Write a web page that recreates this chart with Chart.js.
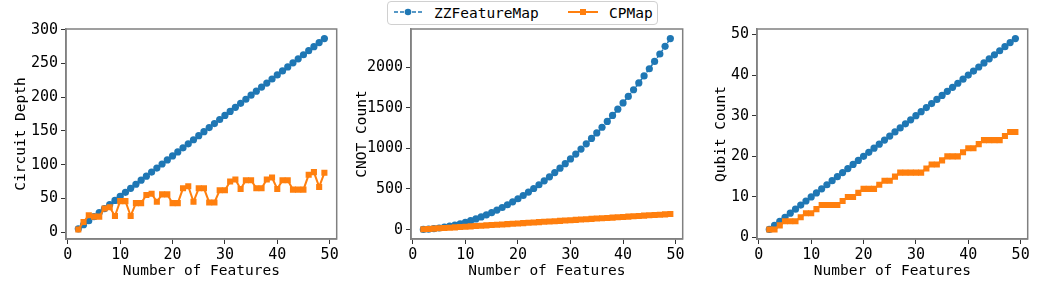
<!DOCTYPE html>
<html>
<head>
<meta charset="utf-8">
<script src="https://cdn.jsdelivr.net/npm/chart.js@4.4.1/dist/chart.umd.min.js"></script>
<style>
  body { margin: 0; background: #fff; width: 1046px; height: 291px; position: relative; overflow: hidden; }
  .panel { position: absolute; top: 0; height: 291px; }
  #legend {
    position: absolute; left: 387px; top: 1px; width: 269px; height: 22px;
    border: 1px solid #d0d0d0; border-radius: 4px; background: #fff;
    font-family: "DejaVu Sans Mono", monospace; font-size: 14.5px; color: #000;
  }
  #legend svg { position: absolute; top: 0; left: 0; }
  #legend span { position: absolute; top: 2px; line-height: 18px; }
</style>
</head>
<body>
<div class="panel" style="left:0px;width:341px"><canvas id="depth"></canvas></div>
<div class="panel" style="left:341px;width:346px"><canvas id="cnot"></canvas></div>
<div class="panel" style="left:700px;width:332px"><canvas id="qubit"></canvas></div>
<div id="legend">
  <svg width="269" height="22">
    <line x1="6" y1="10" x2="36" y2="10" stroke="#1f77b4" stroke-width="1.5" stroke-dasharray="4,2"/>
    <circle cx="20" cy="10" r="3.3" fill="#1f77b4"/>
    <line x1="180" y1="10" x2="210" y2="10" stroke="#ff7f0e" stroke-width="2"/>
    <rect x="192" y="7" width="6" height="6" fill="#ff7f0e"/>
  </svg>
  <span style="left:46px">ZZFeatureMap</span>
  <span style="left:221px">CPMap</span>
</div>
<script>
// number of features on the x axis
const features = [2, 3, 4, 5, 6, 7, 8, 9, 10, 11, 12, 13, 14, 15, 16, 17, 18, 19, 20, 21, 22, 23, 24, 25,
  26, 27, 28, 29, 30, 31, 32, 33, 34, 35, 36, 37, 38, 39, 40, 41, 42, 43, 44, 45, 46, 47, 48, 49];

// circuit depth
const zzDepth = [5, 11, 17, 23, 29, 35, 41, 47, 53, 59, 65, 71, 77, 83, 89, 95, 101, 107, 113, 119, 125, 131, 137, 143,
  149, 155, 161, 167, 173, 179, 185, 191, 197, 203, 209, 215, 221, 227, 233, 239, 245, 251, 257, 263, 269, 275, 281, 287];
const cpDepth = [4, 15, 25, 23, 23, 35, 37, 24, 46, 46, 24, 43, 43, 55, 57, 45, 56, 56, 43, 43, 65, 68, 45, 65,
  65, 44, 44, 62, 62, 75, 78, 64, 77, 77, 65, 65, 78, 81, 64, 77, 77, 63, 63, 63, 85, 89, 67, 88];

// CNOT count
const zzCnot = [2, 6, 12, 20, 30, 42, 56, 72, 90, 110, 132, 156, 182, 210, 240, 272, 306, 342, 380, 420, 462, 506, 552, 600,
  650, 702, 756, 812, 870, 930, 992, 1056, 1122, 1190, 1260, 1332, 1406, 1482, 1560, 1640, 1722, 1806, 1892, 1980, 2070, 2162, 2256, 2352];
const cpCnot = [4, 8, 12, 16, 20, 24, 28, 32, 36, 40, 44, 48, 52, 56, 60, 64, 68, 72, 76, 80, 84, 88, 92, 96,
  100, 104, 108, 112, 116, 120, 124, 128, 132, 136, 140, 144, 148, 152, 156, 160, 164, 168, 172, 176, 180, 184, 188, 192];

// qubit count
const zzQubits = [2, 3, 4, 5, 6, 7, 8, 9, 10, 11, 12, 13, 14, 15, 16, 17, 18, 19, 20, 21, 22, 23, 24, 25,
  26, 27, 28, 29, 30, 31, 32, 33, 34, 35, 36, 37, 38, 39, 40, 41, 42, 43, 44, 45, 46, 47, 48, 49];
const cpQubits = [2, 2, 3, 4, 4, 4, 5, 6, 6, 7, 8, 8, 8, 8, 9, 10, 10, 11, 12, 12, 12, 13, 14, 14,
  15, 16, 16, 16, 16, 16, 17, 18, 18, 19, 20, 20, 20, 21, 22, 22, 23, 24, 24, 24, 24, 25, 26, 26];

const xTicks = [0, 10, 20, 30, 40, 50];

const FONT = { family: "'DejaVu Sans Mono', monospace", size: 15 };
const TITLE_FONT = { family: "'DejaVu Sans Mono', monospace", size: 14.5 };
const BLUE = "#1f77b4";
const ORANGE = "#ff7f0e";

Chart.defaults.font = FONT;
Chart.defaults.color = "#000";

// draws the full box round the plot area
const framePlugin = {
  id: "frame",
  afterDraw(chart) {
    const { ctx, chartArea: a } = chart;
    ctx.save();
    ctx.strokeStyle = "#808080";
    ctx.lineWidth = 1.5;
    ctx.strokeRect(a.left, a.top, a.right - a.left, a.bottom - a.top);
    ctx.restore();
  },
};

function pairs(ys) {
  return features.map((x, i) => ({ x: x, y: ys[i] }));
}

function makeChart(id, zz, cp, yTitle, yMin, yMax, yTicks, axisWidth) {
  const ctx = document.getElementById(id).getContext("2d");
  return new Chart(ctx, {
    type: "line",
    data: {
      datasets: [
        {
          label: "ZZFeatureMap",
          data: pairs(zz),
          borderColor: BLUE,
          backgroundColor: BLUE,
          borderWidth: 1.5,
          borderDash: [4, 2],
          pointStyle: "circle",
          pointRadius: 3.6,
          pointBorderWidth: 0,
          order: 2,
        },
        {
          label: "CPMap",
          data: pairs(cp),
          borderColor: ORANGE,
          backgroundColor: ORANGE,
          borderWidth: 2,
          pointStyle: "rect",
          pointRadius: 4.3,
          pointBorderWidth: 0,
          order: 1,
        },
      ],
    },
    options: {
      responsive: true,
      maintainAspectRatio: false,
      animation: false,
      events: [],
      layout: { padding: { top: 29, right: 4, left: 0, bottom: 0 } },
      plugins: { legend: { display: false }, tooltip: { enabled: false } },
      scales: {
        x: {
          type: "linear",
          min: -0.35,
          max: 51.35,
          afterBuildTicks: (s) => { s.ticks = xTicks.map((v) => ({ value: v })); },
          afterFit: (s) => { s.height = 52; },
          grid: { drawOnChartArea: false, drawTicks: true, tickLength: 5, tickColor: "#333" },
          border: { display: true, color: "#808080", width: 1.5 },
          ticks: { padding: 2, maxRotation: 0, font: FONT, callback: (v) => String(v) },
          title: { display: true, text: "Number of Features", font: TITLE_FONT, padding: { top: 0, bottom: 11 } },
        },
        y: {
          type: "linear",
          min: yMin,
          max: yMax,
          afterBuildTicks: (s) => { s.ticks = yTicks.map((v) => ({ value: v })); },
          afterFit: (s) => { s.width = axisWidth; },
          grid: { drawOnChartArea: false, drawTicks: true, tickLength: 5, tickColor: "#333" },
          border: { display: true, color: "#808080", width: 1.5 },
          ticks: { padding: 3, font: FONT, callback: (v) => String(v) },
          title: { display: true, text: yTitle, font: TITLE_FONT, padding: { top: 13, bottom: 0 } },
        },
      },
    },
    plugins: [framePlugin],
  });
}

makeChart("depth", zzDepth, cpDepth, "Circuit Depth", -10.15, 301.15, [0, 50, 100, 150, 200, 250, 300], 66);
makeChart("cnot", zzCnot, cpCnot, "CNOT Count", -115.5, 2469.5, [0, 500, 1000, 1500, 2000], 70);
makeChart("qubit", zzQubits, cpQubits, "Qubit Count", -0.35, 51.35, [0, 10, 20, 30, 40, 50], 57);
</script>
</body>
</html>
